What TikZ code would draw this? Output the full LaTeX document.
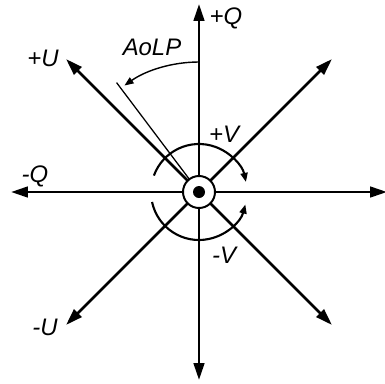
\documentclass[tikz,border=0pt]{standalone}
\usepackage{fontspec}
\setmainfont{Liberation Sans}
\usetikzlibrary{arrows.meta}
\tikzset{
  axis/.style={-{Triangle[length=12pt, width=7.5pt]}, line width=1.9pt},
  turn/.style={-{Triangle[length=6.5pt, width=5pt]}, line width=1.5pt},
  lbl/.style={font=\itshape\fontsize{17}{20}\selectfont, inner sep=0pt},
}

\begin{document}
\begin{tikzpicture}[x=0.025cm, y=0.025cm]
  \useasboundingbox (-199,-191) rectangle (186,192);
  \coordinate (o) at (0,0);

  % Stokes axes
  \foreach \a/\n in {90/pq, 270/dn, 180/mq, 0/rt, 45/ur, 135/pu, 225/mu, 315/lr}
    \coordinate (\n) at (\a:188);
  \foreach \n in {pq, dn, mq, rt, ur, pu, mu, lr}
    \draw[axis] (o) -- (\n);

  % Polarisation direction and angle
  \coordinate (dir) at (127:137);
  \draw[line width=0.9pt] (o) -- (dir);
  \coordinate (a0) at (90:130);
  \draw[turn, line width=1pt] (a0) arc[start angle=90, end angle=125, radius=130];

  % Circular parts
  \coordinate (v0) at (160:48);
  \coordinate (v1) at (192:48);
  \draw[turn] (v0) arc[start angle=160, end angle=12, radius=48];
  \draw[turn] (v1) arc[start angle=192, end angle=345, radius=48];

  % Beam
  \draw[line width=1.4pt, fill=white] (o) circle[radius=16];
  \fill (o) circle[radius=6];

  % Labels
  \node[lbl] (lq) at (27,174) {+Q};
  \node[lbl] (la) at (-47,145) {AoLP};
  \node[lbl] (lu) at (-156,134) {+U};
  \node[lbl] (lmq) at (-164,16) {-Q};
  \node[lbl] (lmu) at (-154,-135) {-U};
  \node[lbl] (lv) at (25,58) {+V};
  \node[lbl] (lmv) at (25,-63) {-V};
\end{tikzpicture}
\end{document}
